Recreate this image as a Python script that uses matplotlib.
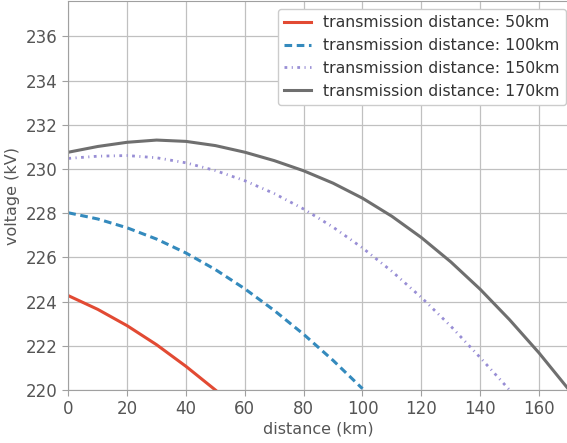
import matplotlib
matplotlib.use("Agg")
import matplotlib.pyplot as plt

# -------------------------
# data (voltage in kV along the line)
# -------------------------
dist_50 = [0, 10, 20, 30, 40, 50]
volt_50 = [224.27, 223.65, 222.91, 222.05, 221.07, 220.0]

dist_100 = [0, 10, 20, 30, 40, 50, 60, 70, 80, 90, 100]
volt_100 = [228.02, 227.74, 227.34, 226.83, 226.20, 225.45, 224.58, 223.60, 222.52, 221.34, 220.06]

dist_150 = [0, 10, 20, 30, 40, 50, 60, 70, 80, 90, 100, 110, 120, 130, 140, 150]
volt_150 = [230.48, 230.58, 230.61, 230.51, 230.28, 229.93, 229.47, 228.89, 228.19,
            227.37, 226.43, 225.37, 224.19, 222.89, 221.47, 220.0]

dist_170 = [0, 10, 20, 30, 40, 50, 60, 70, 80, 90, 100, 110, 120, 130, 140, 150, 160, 170]
volt_170 = [230.76, 231.02, 231.21, 231.31, 231.25, 231.06, 230.76, 230.38, 229.92,
            229.36, 228.68, 227.86, 226.90, 225.80, 224.56, 223.18, 221.68, 220.04]

labels = ["transmission distance: 50km", "transmission distance: 100km",
          "transmission distance: 150km", "transmission distance: 170km"]

# -------------------------
# plot
# -------------------------
fig = plt.figure(figsize=(5.67, 4.43), dpi=100)
ax = fig.add_axes([0.1205, 0.1196, 0.882, 0.878])

ax.plot(dist_50, volt_50, color="#E24A33", lw=2.2, label=labels[0])
ax.plot(dist_100, volt_100, color="#348ABD", lw=2.2, linestyle=(0, (2.5, 1.5)), label=labels[1])
ax.plot(dist_150, volt_150, color="#988ED5", lw=2.0, linestyle=(0, (1.0, 1.6, 0.4, 1.6)), label=labels[2])
ax.plot(dist_170, volt_170, color="#6f6f6f", lw=2.2, label=labels[3])

ax.set_xlim(0, 170)
ax.set_ylim(220, 237.6)
ax.set_xticks(range(0, 161, 20))
ax.set_yticks(range(220, 237, 2))

ax.grid(True, color="#c0c0c0", lw=0.9)
ax.set_axisbelow(True)
for s in ax.spines.values():
    s.set_color("#a0a0a0")
ax.tick_params(colors="#a0a0a0", labelcolor="#555555", labelsize=12, length=4)

ax.set_xlabel("distance (km)", fontsize=11.5, color="#555555", labelpad=2)
ax.set_ylabel("voltage (kV)", fontsize=11.5, color="#555555")

leg = ax.legend(loc="upper right", bbox_to_anchor=(1.011, 1.0), fontsize=11.3,
                handlelength=1.7, framealpha=1.0, edgecolor="#cccccc")
for t in leg.get_texts():
    t.set_color("#333333")

fig.savefig("out.png", dpi=100)
